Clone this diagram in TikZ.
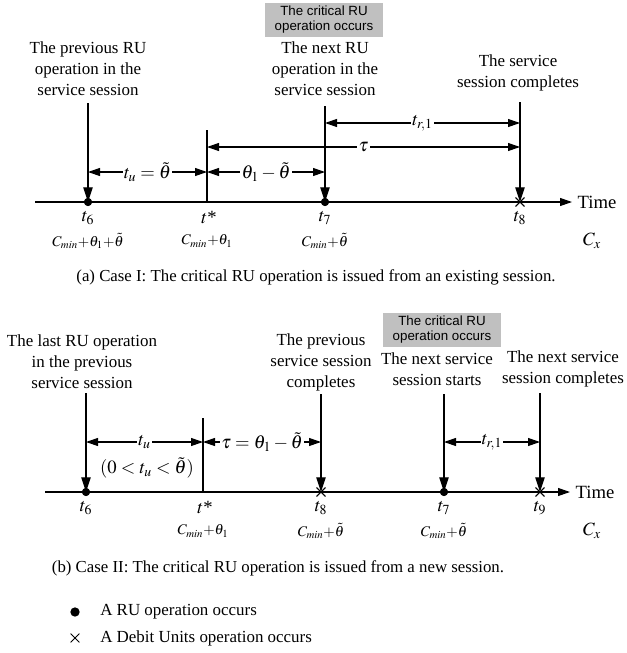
\documentclass[tikz,border=0pt]{standalone}
\usepackage{mathptmx}
\usepackage{fontspec}
\setmainfont{Liberation Serif}
\newfontfamily\critfont{Liberation Sans}
\usetikzlibrary{positioning,arrows.meta,shapes.misc}
\definecolor{critbg}{RGB}{192,192,192}
\tikzset{
  lbl/.style={align=center,font=\fontsize{12.7}{15.75}\selectfont,inner sep=0pt},
  crit/.style={fill=critbg,align=center,font=\critfont\fontsize{10}{11.25}\selectfont,
    minimum width=88.5pt,minimum height=25.5pt,inner sep=1pt},
  tlab/.style={font=\fontsize{14}{16}\selectfont,inner sep=0pt},
  clab/.style={font=\fontsize{11}{12}\selectfont,inner sep=0pt},
  captxt/.style={font=\fontsize{12.6}{14}\selectfont,inner sep=0pt},
  ru/.style={circle,fill,inner sep=0pt,minimum size=6pt},
  du/.style={cross out,draw,line width=0.6pt,inner sep=0pt,minimum size=6pt},
  axis/.style={-{Triangle[length=9pt,width=6pt]},line width=0.8pt},
  drop/.style={-{Triangle[length=11pt,width=7pt]},line width=0.8pt},
  tick/.style={line width=0.8pt},
  dim/.style={{Triangle[length=9pt,width=6pt]}-{Triangle[length=9pt,width=6pt]},line width=0.8pt},
  dlbl/.style={fill=white,font=\fontsize{14}{16}\selectfont,inner sep=1pt},
}

\begin{document}
\begin{tikzpicture}[x=0.75pt,y=-0.75pt]
  \useasboundingbox (0,0) rectangle (627,653);

  % ---------- (a) existing session
  \coordinate (a0) at (35,202);
  \coordinate (aend) at (572,202);
  \draw[axis] (a0) -- (aend);
  \node[lbl,font=\fontsize{14}{16}\selectfont,right=4pt of aend] (atime) {Time};
  \node[ru] (a6) at (88,202) {};
  \coordinate (as) at (207,202);
  \node[ru] (a7) at (325,202) {};
  \node[du] (a8) at (520,202) {};
  \coordinate (a6t) at (88,103);
  \coordinate (ast) at (207,130);
  \coordinate (a7t) at (325,106);
  \coordinate (a8t) at (520,102);
  \draw[drop] (a6t) -- (a6.center);
  \draw[tick] (ast) -- (as);
  \draw[drop] (a7t) -- (a7.center);
  \draw[drop] (a8t) -- (a8.center);
  \node[ru] at (a6) {};
  \node[ru] at (a7) {};
  \node[du] at (a8) {};

  \coordinate (ady1) at (0,172);
  \coordinate (ady2) at (0,147);
  \coordinate (ady3) at (0,123);
  \draw[dim] (a6 |- ady1) -- node[dlbl] {$t_u=\tilde{\theta}$} (as |- ady1);
  \draw[dim] (as |- ady1) -- node[dlbl] {$\theta_1-\tilde{\theta}$} (a7 |- ady1);
  \draw[dim] (as |- ady2) -- node[dlbl] {$\tau$} (a8 |- ady2);
  \draw[dim] (a7 |- ady3) -- node[dlbl] {$t_{r,1}$} (a8 |- ady3);

  \node[lbl] (a6lbl) at (88,69) {The previous RU\\operation in the\\service session};
  \node[crit] (acrit) at (324,20) {The critical RU\\operation occurs};
  \node[lbl] (a7lbl) at (325,69) {The next RU\\operation in the\\service session};
  \node[lbl] (a8lbl) at (518,73) {The service\\session completes};

  \node[tlab] at (88,218) {$t_6$};
  \node[tlab] at (209,217) {$t$*};
  \node[tlab] at (325,218) {$t_7$};
  \node[tlab] at (520,218) {$t_8$};
  \node[clab] at (88,241) {$C_{min}{+}\theta_1{+}\tilde{\theta}$};
  \node[clab] at (207,241) {$C_{min}{+}\theta_1$};
  \node[clab] at (325,241) {$C_{min}{+}\tilde{\theta}$};
  \node[tlab] at (592,241) {$C_x$};
  \node[captxt] (acap) at (316,277) {(a) Case I: The critical RU operation is issued from an existing session.};

  % ---------- (b) new session
  \coordinate (b0) at (45,492);
  \coordinate (bend) at (570,492);
  \draw[axis] (b0) -- (bend);
  \node[lbl,font=\fontsize{14}{16}\selectfont,right=4pt of bend] (btime) {Time};
  \node[ru] (b6) at (86,492) {};
  \coordinate (bs) at (203,492);
  \node[du] (b8) at (321,492) {};
  \node[ru] (b7) at (444,492) {};
  \node[du] (b9) at (540,492) {};
  \coordinate (b6t) at (86,393);
  \coordinate (bst) at (203,418);
  \coordinate (b8t) at (321,394);
  \coordinate (b7t) at (444,394);
  \coordinate (b9t) at (540,393);
  \draw[drop] (b6t) -- (b6.center);
  \draw[tick] (bst) -- (bs);
  \draw[drop] (b8t) -- (b8.center);
  \draw[drop] (b7t) -- (b7.center);
  \draw[drop] (b9t) -- (b9.center);
  \node[ru] at (b6) {};
  \node[du] at (b8) {};
  \node[ru] at (b7) {};
  \node[du] at (b9) {};

  \coordinate (bdy) at (0,442);
  \draw[dim] (b6 |- bdy) -- node[dlbl] {$t_u$} (bs |- bdy);
  \draw[dim] (bs |- bdy) -- node[dlbl] {$\tau=\theta_1-\tilde{\theta}$} (b8 |- bdy);
  \draw[dim] (b7 |- bdy) -- node[dlbl] {$t_{r,1}$} (b9 |- bdy);
  \node[tlab] (bcond) at (147,468) {$(0<t_u<\tilde{\theta})$};

  \node[lbl] (b6lbl) at (82,362) {The last RU operation\\in the previous\\service session};
  \node[lbl] (b8lbl) at (321,362) {The previous\\service session\\completes};
  \node[crit] (bcrit) at (442,330) {The critical RU\\operation occurs};
  \node[lbl] (b7lbl) at (437,369) {The next service\\session starts};
  \node[lbl] (b9lbl) at (563,369) {The next service\\session completes};

  \node[tlab] at (86,508) {$t_6$};
  \node[tlab] at (205,507) {$t$*};
  \node[tlab] at (321,508) {$t_8$};
  \node[tlab] at (444,508) {$t_7$};
  \node[tlab] at (540,508) {$t_9$};
  \node[clab] at (203,531) {$C_{min}{+}\theta_1$};
  \node[clab] at (321,531) {$C_{min}{+}\tilde{\theta}$};
  \node[clab] at (444,531) {$C_{min}{+}\tilde{\theta}$};
  \node[tlab] at (592,531) {$C_x$};
  \node[captxt] (bcap) at (278,568) {(b) Case II: The critical RU operation is issued from a new session.};

  % ---------- legend
  \node[ru,minimum size=7pt] (kru) at (75,612) {};
  \node[lbl,anchor=west] at (100,612) {A RU operation occurs};
  \node[du,minimum size=6pt] (kdu) at (75,638) {};
  \node[lbl,anchor=west] at (100,638) {A Debit Units operation occurs};
\end{tikzpicture}
\end{document}
